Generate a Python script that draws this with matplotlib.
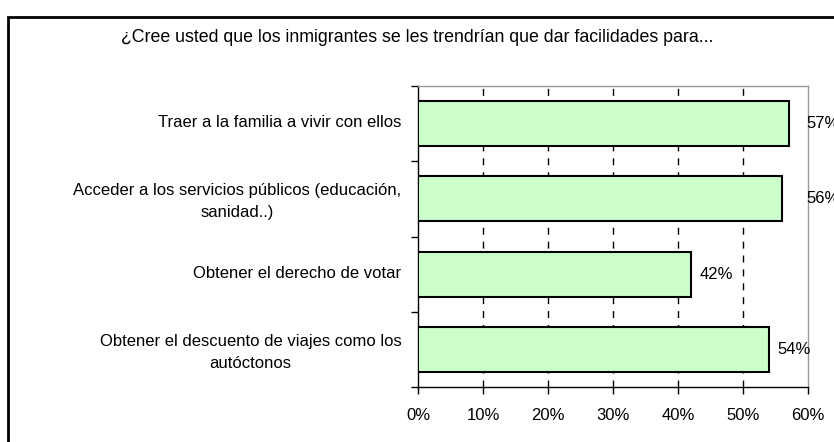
import matplotlib
matplotlib.use("Agg")
import matplotlib.pyplot as plt
from matplotlib.patches import Rectangle
import numpy as np

plt.rcParams['font.family'] = ['Liberation Sans', 'DejaVu Sans']

title = "¿Cree usted que los inmigrantes se les trendrían que dar facilidades para..."
categories = [
    "Traer a la familia a vivir con ellos",
    "Acceder a los servicios públicos (educación,\nsanidad..)",
    "Obtener el derecho de votar",
    "Obtener el descuento de viajes como los\nautóctonos",
]
values = [57, 56, 42, 54]
xticks = [0, 10, 20, 30, 40, 50, 60]
xticklabels = ["0%", "10%", "20%", "30%", "40%", "50%", "60%"]

W, H = 834, 442
FS = 12
fig = plt.figure(figsize=(W / 100, H / 100), dpi=100)

# outer frame
fig.patches.append(Rectangle((8 / W, -0.1), 1.2, (H - 17) / H + 0.1,
                             transform=fig.transFigure, fill=False,
                             edgecolor='black', linewidth=2))

ax = fig.add_axes([418 / W, 1 - 387 / H, (808 - 418) / W, (387 - 86) / H])
n = len(categories)
y = np.arange(n)
ax.barh(y, values, height=0.6, color='#CCFFCC', edgecolor='black', linewidth=1.5, zorder=3)
ax.set_ylim(n - 0.5, -0.5)
ax.set_xlim(0, 60)

ax.set_xticks(xticks)
ax.set_xticklabels(xticklabels, fontsize=FS)
ax.set_yticks(np.arange(n + 1) - 0.5)
ax.set_yticklabels([])
ax.set_yticks(y - 0.03, minor=True)
ax.set_yticklabels(categories, minor=True, fontsize=FS, ha='right',
                   multialignment='center', linespacing=1.6)
ax.tick_params(axis='y', which='minor', length=0, pad=12)
ax.tick_params(axis='y', which='major', length=5, direction='out', width=1)
ax.tick_params(axis='x', length=5, direction='out', width=1, pad=10)

for x in xticks[1:-1]:
    ax.axvline(x, color='black', linestyle=(0, (5, 5)), linewidth=1, zorder=1)

for s in ['top', 'right']:
    ax.spines[s].set_color('#999999')
    ax.spines[s].set_linewidth(1)
for s in ['left', 'bottom']:
    ax.spines[s].set_linewidth(1)

xmax = xticks[-1]
for yi, v in zip(y, values):
    if v > xmax - 5:
        ax.annotate(f"{v}%", (xmax, yi), xytext=(-1, 0), textcoords='offset points',
                    va='center', ha='left', fontsize=FS, annotation_clip=False)
    else:
        ax.annotate(f"{v}%", (v, yi), xytext=(6, 0), textcoords='offset points',
                    va='center', ha='left', fontsize=FS, annotation_clip=False)

fig.text(417 / W, 1 - 38 / H, title, ha='center', va='center', fontsize=12.8)

fig.savefig("out.png", dpi=100)
